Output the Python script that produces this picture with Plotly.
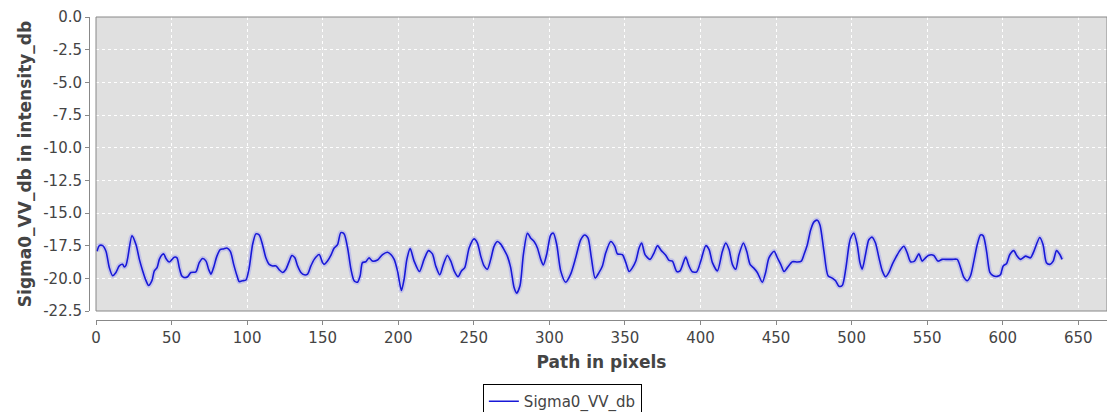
import plotly.graph_objects as go

# Path position (pixels) and Sigma0_VV_db (intensity_db)
path_px = [
    0.7, 2.2, 4.4, 6.6, 8.8, 11.0, 13.2, 15.4, 17.6, 18.7, 19.9, 21.0, 23.8, 26.5, 28.7,
    30.9, 33.1, 34.8, 37.0, 38.6, 40.4, 41.9, 43.4, 44.8, 46.3, 48.5, 50.3, 51.8, 53.6,
    55.1, 56.7, 58.4, 60.6, 62.8, 66.1, 68.3, 70.6, 72.8, 74.5, 76.1, 77.8, 80.0, 82.2,
    84.4, 86.6, 88.9, 91.1, 93.3, 94.8, 97.0, 99.2, 101.4, 103.6, 105.8, 108.0, 110.2,
    112.4, 114.6, 116.9, 119.1, 121.3, 123.5, 125.7, 127.9, 129.6, 131.6, 133.4, 135.6,
    137.8, 140.0, 142.2, 144.4, 147.7, 149.9, 151.0, 153.2, 155.4, 157.6, 159.8, 162.0,
    164.2, 166.5, 168.7, 170.8, 173.0, 174.8, 176.3, 178.5, 180.7, 182.9, 186.3, 189.6,
    192.9, 195.1, 197.3, 199.5, 202.1, 203.9, 205.7, 207.9, 210.5, 214.0, 217.1, 220.0,
    222.6, 224.8, 227.5, 229.9, 232.5, 234.8, 237.0, 239.6, 241.8, 244.0, 246.9, 250.2,
    252.4, 254.6, 256.8, 259.0, 261.2, 263.4, 265.6, 267.8, 270.0, 272.2, 274.4, 276.6,
    278.4, 280.6, 282.8, 285.5, 287.7, 289.9, 292.1, 294.3, 296.0, 298.2, 300.9, 302.7,
    304.9, 307.5, 310.8, 314.1, 317.4, 320.7, 323.4, 325.6, 327.8, 330.3, 332.9, 335.1,
    337.3, 340.6, 343.3, 345.0, 348.3, 350.6, 352.8, 355.0, 357.2, 359.4, 361.1, 363.3,
    366.6, 369.3, 371.5, 374.1, 377.0, 379.2, 381.4, 384.3, 386.5, 390.2, 392.4, 394.6,
    397.5, 400.2, 403.5, 405.7, 407.9, 411.2, 414.5, 416.7, 418.9, 421.1, 423.3, 425.5,
    428.4, 430.6, 432.8, 435.0, 437.6, 440.9, 443.1, 445.3, 448.7, 450.9, 453.1, 455.3,
    457.5, 460.8, 464.1, 466.7, 468.5, 470.7, 472.9, 475.1, 477.3, 479.1, 481.7, 484.4,
    487.2, 489.4, 491.6, 493.8, 496.1, 498.3, 499.3, 501.5, 503.7, 505.5, 507.0, 509.2,
    511.4, 513.6, 515.8, 518.1, 520.3, 522.5, 524.7, 526.9, 529.1, 531.9, 534.6, 536.8,
    539.0, 541.6, 544.5, 546.7, 548.9, 551.1, 554.4, 557.1, 559.9, 563.2, 566.6, 569.9,
    572.1, 574.3, 576.5, 578.7, 580.9, 583.1, 585.3, 587.1, 589.3, 591.5, 593.7, 596.3,
    598.5, 600.3, 602.5, 604.7, 607.3, 609.5, 611.7, 615.1, 618.4, 620.6, 624.5, 626.7,
    628.9, 631.2, 633.4, 635.6, 637.8, 639.3,
]
sigma0_vv_db = [
    -17.93, -17.50, -17.50, -17.93, -19.18, -19.80, -19.55, -19.05, -18.93, -19.13, -18.98,
    -18.43, -16.75, -17.43, -18.55, -19.43, -20.18, -20.55, -20.18, -19.43, -19.18, -18.55,
    -18.23, -18.13, -18.48, -18.75, -18.55, -18.38, -18.43, -19.18, -19.80, -19.93, -19.88,
    -19.55, -19.50, -18.80, -18.48, -18.68, -19.30, -19.68, -19.18, -18.30, -17.80, -17.75,
    -17.68, -17.93, -18.93, -19.80, -20.25, -20.18, -20.13, -19.18, -17.43, -16.60, -16.68,
    -17.43, -18.43, -18.93, -19.05, -19.05, -19.35, -19.55, -19.30, -18.68, -18.25, -18.43,
    -19.05, -19.55, -19.73, -19.68, -19.05, -18.55, -18.18, -18.80, -18.93, -18.68, -18.25,
    -17.68, -17.43, -16.50, -16.60, -17.68, -19.30, -20.18, -20.30, -19.80, -18.80, -18.73,
    -18.43, -18.68, -18.60, -18.18, -18.00, -18.18, -18.55, -19.43, -20.93, -20.05, -18.55,
    -17.73, -18.68, -19.48, -18.55, -17.88, -18.13, -19.05, -19.73, -18.93, -18.25, -18.68,
    -19.43, -19.88, -19.43, -19.18, -17.68, -16.98, -17.30, -18.30, -19.05, -19.30, -18.55,
    -17.55, -17.18, -17.38, -17.80, -18.30, -19.18, -20.68, -21.13, -20.55, -18.18, -16.55,
    -16.93, -17.18, -17.68, -18.55, -18.98, -18.18, -16.68, -16.55, -17.43, -19.43, -20.30,
    -19.68, -18.43, -17.05, -16.68, -16.93, -18.43, -19.98, -19.55, -19.05, -18.05, -17.18,
    -17.55, -18.13, -18.18, -18.80, -19.48, -19.18, -18.68, -17.68, -17.30, -18.18, -18.55,
    -18.05, -17.50, -17.88, -18.23, -18.63, -18.68, -19.48, -19.43, -18.38, -19.05, -19.50,
    -19.50, -18.68, -17.50, -17.80, -18.80, -19.43, -17.93, -17.30, -17.80, -18.93, -19.30,
    -18.18, -17.30, -17.93, -18.93, -19.18, -19.55, -20.30, -19.55, -18.43, -17.93, -18.43,
    -18.93, -19.48, -19.18, -18.73, -18.75, -18.68, -18.18, -17.43, -16.30, -15.68, -15.55,
    -15.93, -17.93, -19.80, -19.98, -20.18, -20.60, -20.55, -19.30, -17.43, -16.93, -16.55,
    -17.43, -18.80, -19.30, -18.18, -17.05, -16.85, -17.30, -18.43, -19.43, -19.88, -19.55,
    -18.93, -18.43, -17.88, -17.55, -18.05, -18.73, -18.68, -18.13, -18.68, -18.43, -18.23,
    -18.25, -18.68, -18.55, -18.55, -18.55, -18.55, -19.18, -19.93, -20.18, -19.80, -18.68,
    -17.43, -16.68, -16.75, -17.93, -19.55, -19.80, -19.85, -19.73, -19.05, -18.88, -18.18,
    -17.88, -18.30, -18.55, -18.30, -18.43, -17.93, -16.88, -17.43, -18.80, -18.93, -18.68,
    -17.88, -18.18, -18.55,
]

x_tick_vals = [0, 50, 100, 150, 200, 250, 300, 350, 400, 450, 500, 550, 600, 650]
y_tick_vals = [0.0, -2.5, -5.0, -7.5, -10.0, -12.5, -15.0, -17.5, -20.0, -22.5]
y_tick_text = ["0.0", "-2.5", "-5.0", "-7.5", "-10.0", "-12.5", "-15.0", "-17.5", "-20.0", "-22.5"]

W, H = 1107, 412
ML, MR, MT, MB = 89, 0, 17, 92
pw, ph = W - ML - MR, H - MT - MB

tick_font = dict(family="DejaVu Sans", size=15, color="#444444")
title_font = dict(family="DejaVu Sans", size=17, color="#444444")

fig = go.Figure()
# soft halo around the profile line
fig.add_trace(go.Scatter(
    x=path_px, y=sigma0_vv_db, mode="lines",
    line=dict(color="rgba(90,90,255,0.22)", width=5, shape="spline", smoothing=0.7),
    hoverinfo="skip", showlegend=False,
))
fig.add_trace(go.Scatter(
    x=path_px, y=sigma0_vv_db, mode="lines", name="Sigma0_VV_db",
    line=dict(color="rgb(24,24,215)", width=1.6, shape="spline", smoothing=0.7),
))

fig.update_layout(
    width=W, height=H,
    margin=dict(l=ML, r=MR, t=MT, b=MB, pad=0),
    paper_bgcolor="white",
    plot_bgcolor="#e0e0e0",
    font=tick_font,
    showlegend=True,
    legend=dict(
        orientation="h", xref="container", yref="container",
        x=0.508, xanchor="center", y=1 - 384 / H, yanchor="top",
        bgcolor="white", bordercolor="#000000", borderwidth=1,
        font=dict(family="DejaVu Sans", size=15, color="#444444"),
        itemwidth=30,
    ),
    xaxis=dict(
        domain=[7 / pw, 1], range=[0, 669], anchor="free", position=0,
        tickvals=x_tick_vals, ticks="outside", ticklen=4, tickcolor="#888888",
        showline=True, linecolor="#888888", linewidth=1,
        showgrid=True, gridcolor="white", griddash="3px,3px", gridwidth=1,
        zeroline=False, tickfont=tick_font,
        title=dict(text="<b>Path in pixels</b>", font=title_font, standoff=10),
    ),
    yaxis=dict(
        domain=[9 / ph, 1], range=[-22.5, 0], anchor="free", position=0,
        tickvals=y_tick_vals, ticktext=y_tick_text, ticks="outside", ticklen=4,
        tickcolor="#888888", showline=True, linecolor="#888888", linewidth=1,
        showgrid=True, gridcolor="white", griddash="3px,3px", gridwidth=1,
        zeroline=False, tickfont=tick_font,
        title=dict(text="<b>Sigma0_VV_db in intensity_db</b>", font=title_font, standoff=6),
    ),
    shapes=[dict(
        type="rect", xref="x domain", yref="y domain", x0=0, x1=1, y0=0, y1=1,
        line=dict(color="#888888", width=1), layer="above",
    )],
)

fig.write_html("out.html")
